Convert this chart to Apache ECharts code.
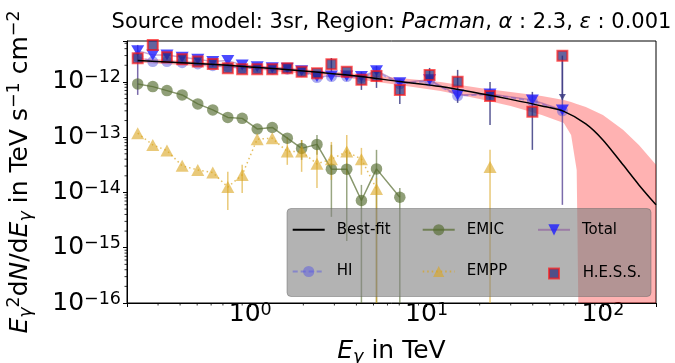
<!DOCTYPE html>
<html><head><meta charset="utf-8">
<script src="https://cdn.jsdelivr.net/npm/echarts@6/dist/echarts.min.js"></script>
<style>html,body{margin:0;padding:0;background:#fff}#c{width:675px;height:363px}</style>
</head><body><div id="c"></div>
<script>
// ---------- data ----------
const energies = [0.230,0.280,0.337,0.411,0.504,0.613,0.746,0.900,1.095,1.333,1.622,1.956,2.390,2.885,3.526,4.27,5.20,7.05,10.4,15.0,22.9,39.8,58.9];
const hessFlux = [2.68e-12,4.67e-12,2.80e-12,2.57e-12,2.33e-12,2.12e-12,1.77e-12,1.70e-12,1.70e-12,1.70e-12,1.77e-12,1.53e-12,1.44e-12,2.09e-12,1.53e-12,1.09e-12,1.28e-12,7.17e-13,1.34e-12,1.01e-12,5.58e-13,2.90e-13,2.99e-12];
const hessLo = [null,null,null,null,null,null,null,null,null,null,null,null,null,1.52e-12,null,7.17e-13,7.79e-13,4.0e-13,8.83e-13,4.17e-13,1.67e-13,5.9e-14,4.72e-13];
const hessHi = [null,null,null,null,null,null,null,null,null,null,null,null,null,2.71e-12,null,1.52e-12,1.95e-12,1.09e-12,1.79e-12,1.65e-12,1.0e-12,6.6e-13,2.99e-12];
const hessUpperLimit = [0,0,0,0,0,0,0,0,0,0,0,0,0,0,0,0,0,0,0,0,0,0,1];
const totalFlux = [3.68e-12,3.08e-12,3.08e-12,2.80e-12,2.57e-12,2.33e-12,2.43e-12,2.03e-12,1.89e-12,1.81e-12,1.77e-12,1.60e-12,1.25e-12,1.28e-12,1.28e-12,1.25e-12,1.60e-12,9.7e-13,1.09e-12,5.82e-13,6.07e-13,4.72e-13,3.12e-13];
const totalLo = [5.82e-13,null,null,null,null,null,null,null,null,null,null,null,null,null,null,null,null,null,null,null,null,null,5.97e-15];
const totalHi = [4.67e-12,null,null,null,null,null,null,null,null,null,null,null,null,null,null,null,null,null,null,null,null,null,2.5e-12];
const hiFlux = [2.87e-12,2.33e-12,2.33e-12,2.23e-12,2.12e-12,1.97e-12,1.89e-12,1.77e-12,1.77e-12,1.70e-12,1.70e-12,1.53e-12,1.20e-12,1.25e-12,1.25e-12,1.20e-12,1.52e-12,9.2e-13,1.04e-12,5.6e-13,5.9e-13,4.5e-13,3.0e-13];
const emicFlux = [9.2e-13,8.22e-13,6.96e-13,5.82e-13,4.0e-13,3.12e-13,2.28e-13,2.19e-13,1.41e-13,1.50e-13,9.6e-14,6.27e-14,7.41e-14,2.64e-14,2.64e-14,7.14e-15,2.67e-14,8.2e-15,null,null,null,null,null];
const emicLo = [null,null,null,null,null,null,null,null,null,null,null,3.89e-14,4.79e-14,3.62e-15,1.33e-15,1e-16,1e-16,1e-16,null,null,null,null,null];
const emicHi = [null,null,null,null,null,null,null,null,null,null,null,8.9e-14,1.10e-13,7.26e-14,5.9e-14,1.37e-14,5.9e-14,1.21e-14,null,null,null,null,null];
const emppFlux = [1.18e-13,7.26e-14,5.73e-14,3.03e-14,2.56e-14,2.29e-14,1.25e-14,2.08e-14,9.2e-14,9.6e-14,5.5e-14,5.5e-14,3.29e-14,4.0e-14,5.5e-14,4.0e-14,1.16e-14,null,null,null,2.9e-14,null,null];
const emppLo = [null,null,null,null,null,null,4.84e-15,9.8e-15,null,null,3.16e-14,2.36e-14,1.21e-14,1.69e-14,2.09e-14,2.09e-14,1e-16,null,null,null,1e-16,null,null];
const emppHi = [null,null,null,null,null,null,2.36e-14,3.16e-14,null,null,1.01e-13,8.9e-14,5.9e-14,8.2e-14,1.10e-13,6.4e-14,1.84e-14,null,null,null,5.9e-14,null,null];
const fitE = [0.23,0.5,1,2,4,7,12,20,30,45,60,80,100,130,160,200];
const fitFlux = [2.43e-12,2.16e-12,1.87e-12,1.58e-12,1.28e-12,1.02e-12,8.29e-13,6.19e-13,4.83e-13,3.68e-13,2.93e-13,1.74e-13,8.93e-14,3.16e-14,1.37e-14,5.97e-15];
const bandE = [0.23,1,3,7,12,20,30,45,60,66,71,72.5,80,100,130,160,200];
const bandHi = [2.72e-12,2.03e-12,1.52e-12,1.18e-12,1.0e-12,7.79e-13,6.6e-13,5.58e-13,4.72e-13,4.35e-13,4.0e-13,3.9e-13,3.53e-13,2.53e-13,1.36e-13,7.26e-14,3.16e-14];
const bandLo = [2.24e-12,1.72e-12,1.26e-12,8.83e-13,6.88e-13,4.93e-13,3.68e-13,2.53e-13,1.81e-13,1.10e-13,2.56e-14,1e-16,1e-16,1e-16,1e-16,1e-16,1e-16];
const xMinorTicks = [0.3,0.4,0.5,0.6,0.7,0.8,0.9,2,3,4,5,6,7,8,9,20,30,40,50,60,70,80,90];
const yMinorTicks = [2e-16,3e-16,4e-16,5e-16,6e-16,7e-16,8e-16,9e-16,2e-15,3e-15,4e-15,5e-15,6e-15,7e-15,8e-15,9e-15,2e-14,3e-14,4e-14,5e-14,6e-14,7e-14,8e-14,9e-14,2e-13,3e-13,4e-13,5e-13,6e-13,7e-13,8e-13,9e-13,2e-12,3e-12,4e-12,5e-12];
const xMin = 0.2, xMax = 200, yMin = 1e-16, yMax = 5.5e-12;
const legendNames = ['Best-fit','HI','EMIC','EMPP','Total','H.E.S.S.'];

// ---------- helpers ----------
const FF = 'DejaVu Sans';
const pairs = (xs, ys) => xs.map((x, i) => [x, ys[i]]);
const errData = (lo, hi) => energies.map((e, i) => lo[i] == null ? null : [e, lo[i], hi[i]]).filter(d => d);
function powLabel(v) {
  const l = Math.log10(v), r = Math.round(l);
  if (Math.abs(l - r) > 1e-6) return '';
  return '{b|10}{s|' + (r < 0 ? '\u2212' + (-r) : r) + '}';
}
const tickRich = {
  b: {fontSize: 25, fontFamily: FF, lineHeight: 26, color: '#000'},
  s: {fontSize: 17.5, fontFamily: FF, lineHeight: 14, verticalAlign: 'top', color: '#000'}
};
function errSeries(name, data, color, width) {
  return {
    type: 'custom', name: name, data: data, silent: true, z: 3,
    renderItem: function (params, api) {
      const x = api.value(0);
      const p1 = api.coord([x, api.value(1)]), p2 = api.coord([x, api.value(2)]);
      return {type: 'line', shape: {x1: p1[0], y1: p1[1], x2: p2[0], y2: p2[1]},
        style: {stroke: color, lineWidth: width}};
    }
  };
}

const chart = echarts.init(document.getElementById('c'), null, {renderer: 'canvas'});
const rowY = [229.3, 271];
const legendPos = {
  'Best-fit': {left: 291.7, row: 0, w: 32, h: 14, pad: 7},
  'HI': {left: 291.7, row: 1, w: 32, h: 14, pad: 7},
  'EMIC': {left: 421.7, row: 0, w: 32, h: 14, pad: 7},
  'EMPP': {left: 421.7, row: 1, w: 32, h: 14, pad: 7},
  'Total': {left: 537, row: 0, w: 32, h: 14, pad: 7},
  'H.E.S.S.': {left: 548, row: 1, w: 10, h: 10, pad: 18.7}
};

chart.setOption({
  animation: false,
  backgroundColor: '#fff',
  title: {
    text: '{n|Source model: 3sr, Region: }{i|Pacman}{n|, }{i|\u03b1}{n| : 2.3, }{i|\u03b5}{n| : 0.001}',
    left: 391.5, top: 12, textAlign: 'center', padding: 0,
    textStyle: {fontWeight: 'normal', rich: {
      n: {fontSize: 21, fontFamily: FF, fontWeight: 'normal', color: '#000'},
      i: {fontSize: 21, fontFamily: FF, fontWeight: 'normal', fontStyle: 'italic', color: '#000'}
    }}
  },
  grid: {left: 127, right: 19, top: 41, bottom: 60, show: true, borderColor: '#000', borderWidth: 1,
    backgroundColor: 'transparent', containLabel: false, outerBoundsMode: 'none'},
  xAxis: {
    type: 'log', logBase: 10, min: xMin, max: xMax,
    name: '{i|E}{sb|\u03b3}{n| in TeV}', nameLocation: 'middle', nameGap: 33,
    nameTextStyle: {rich: {
      n: {fontSize: 25, fontFamily: FF, lineHeight: 30, color: '#000'},
      i: {fontSize: 25, fontFamily: FF, fontStyle: 'italic', lineHeight: 30, color: '#000'},
      sb: {fontSize: 17.5, fontFamily: FF, fontStyle: 'italic', lineHeight: 14, verticalAlign: 'bottom', color: '#000'}
    }},
    axisLine: {show: true, lineStyle: {color: '#000', width: 1}},
    axisTick: {show: true, length: 4, lineStyle: {color: '#000'}},
    minorTick: {show: false},
    splitLine: {show: false},
    axisLabel: {formatter: powLabel, margin: -2, rich: tickRich}
  },
  yAxis: {
    type: 'log', logBase: 10, min: yMin, max: yMax,
    name: '{i|E}{sb|\u03b3}{sp|2}{n|d}{i|N}{n|/d}{i|E}{sb|\u03b3}{n| in TeV s}{sp|\u22121}{n| cm}{sp|\u22122}',
    nameLocation: 'middle', nameRotate: 90, nameGap: 92,
    nameTextStyle: {rich: {
      n: {fontSize: 25, fontFamily: FF, lineHeight: 30, color: '#000'},
      i: {fontSize: 25, fontFamily: FF, fontStyle: 'italic', lineHeight: 30, color: '#000'},
      sb: {fontSize: 17.5, fontFamily: FF, fontStyle: 'italic', lineHeight: 14, verticalAlign: 'bottom', color: '#000'},
      sp: {fontSize: 17.5, fontFamily: FF, lineHeight: 14, verticalAlign: 'top', color: '#000'}
    }},
    axisLine: {show: true, lineStyle: {color: '#000', width: 1}},
    axisTick: {show: true, length: 4, lineStyle: {color: '#000'}},
    splitLine: {show: false},
    axisLabel: {formatter: powLabel, margin: 6, rich: tickRich}
  },
  legend: legendNames.map(n => {
    const p = legendPos[n];
    return {
      orient: 'vertical', padding: 0, z: 20,
      data: n === 'Best-fit' ? [{name: n, itemStyle: {opacity: 0}}] : [n],
      left: p.left, top: rowY[p.row] - p.h / 2, itemWidth: p.w, itemHeight: p.h,
      textStyle: {fontSize: 15, fontFamily: FF, color: '#000', padding: [0, 0, 0, p.pad]}
    };
  }),
  graphic: [{
    type: 'rect', z: 10, silent: true,
    shape: {x: 287, y: 208.5, width: 364, height: 88, r: 4},
    style: {fill: 'rgba(128,128,128,0.6)', stroke: 'rgba(100,100,100,0.45)', lineWidth: 1}
  }],
  series: [
    {
      type: 'custom', name: 'band', silent: true, z: 1, clip: true,
      data: bandE.map((e, i) => [e, bandLo[i], bandHi[i]]),
      renderItem: function (params, api) {
        if (params.dataIndex !== 0) return null;
        const pts = [];
        for (let i = 0; i < bandE.length; i++) pts.push(api.coord([bandE[i], bandHi[i]]));
        for (let i = bandE.length - 1; i >= 0; i--) pts.push(api.coord([bandE[i], bandLo[i]]));
        return {type: 'polygon', shape: {points: pts}, style: {fill: 'rgba(255,0,0,0.3)'}};
      }
    },
    {
      type: 'line', name: 'HI', data: pairs(energies, hiFlux), z: 2,
      symbol: 'circle', symbolSize: 11,
      itemStyle: {color: 'rgba(90,90,225,0.5)'},
      lineStyle: {color: 'rgba(90,90,225,0.5)', width: 1.5, type: [5, 3]}
    },
    errSeries('emicErr', errData(emicLo, emicHi), 'rgba(85,107,47,0.6)', 1.5),
    {
      type: 'line', name: 'EMIC', data: pairs(energies, emicFlux), z: 3,
      symbol: 'circle', symbolSize: 11.5, connectNulls: false,
      itemStyle: {color: 'rgba(85,107,47,0.65)'},
      lineStyle: {color: 'rgba(85,107,47,0.7)', width: 1.5}
    },
    errSeries('emppErr', errData(emppLo, emppHi), 'rgba(218,165,32,0.6)', 1.5),
    {
      type: 'line', name: 'EMPP', data: pairs(energies, emppFlux), z: 3,
      symbol: 'triangle', symbolSize: [13, 12], connectNulls: false,
      itemStyle: {color: 'rgba(218,165,32,0.6)'},
      lineStyle: {color: 'rgba(218,165,32,0.7)', width: 1.5, type: [1.5, 3]}
    },
    errSeries('totalErr', errData(totalLo, totalHi), 'rgba(90,70,150,0.8)', 1.5),
    {
      type: 'line', name: 'Total', data: pairs(energies, totalFlux), z: 4,
      symbol: 'triangle', symbolRotate: 180, symbolSize: [13, 11],
      itemStyle: {color: 'rgba(30,30,255,0.8)'},
      lineStyle: {color: 'rgba(128,60,150,0.45)', width: 1.5}
    },
    {
      type: 'custom', name: 'hessErr', silent: true, z: 4,
      data: energies.map((e, i) => hessLo[i] == null ? null : [e, hessLo[i], hessHi[i], hessUpperLimit[i]]).filter(d => d),
      renderItem: function (params, api) {
        const x = api.value(0);
        const p1 = api.coord([x, api.value(1)]), p2 = api.coord([x, api.value(2)]);
        const children = [{type: 'line', shape: {x1: p1[0], y1: p1[1], x2: p2[0], y2: p2[1]},
          style: {stroke: 'rgba(60,60,130,0.85)', lineWidth: 1.5}}];
        if (api.value(3) === 1) {
          children.push({type: 'polygon', shape: {points: [[p1[0] - 3.5, p1[1] - 6], [p1[0] + 3.5, p1[1] - 6], [p1[0], p1[1]]]},
            style: {fill: 'rgba(60,60,130,0.85)'}});
        }
        return {type: 'group', children: children};
      }
    },
    {
      type: 'scatter', name: 'H.E.S.S.', data: pairs(energies, hessFlux), z: 5,
      symbol: 'rect', symbolSize: 10,
      itemStyle: {color: 'rgba(40,40,120,0.9)', borderColor: 'rgba(255,20,20,0.85)', borderWidth: 2}
    },
    {
      type: 'line', name: 'Best-fit', data: pairs(fitE, fitFlux), z: 6,
      symbol: 'none', smooth: 0.3, clip: true,
      itemStyle: {color: '#000'},
      lineStyle: {color: '#000', width: 1.5}
    },
    {
      type: 'custom', name: 'xMinor', silent: true, z: 6,
      data: xMinorTicks.map(v => [v, yMin]),
      renderItem: function (params, api) {
        const p = api.coord([api.value(0), api.value(1)]);
        return {type: 'line', shape: {x1: p[0], y1: p[1], x2: p[0], y2: p[1] + 2.5}, style: {stroke: '#000', lineWidth: 0.8}};
      }
    },
    {
      type: 'custom', name: 'yMinor', silent: true, z: 6,
      data: yMinorTicks.map(v => [xMin, v]),
      renderItem: function (params, api) {
        const p = api.coord([api.value(0), api.value(1)]);
        return {type: 'line', shape: {x1: p[0], y1: p[1], x2: p[0] - 2.5, y2: p[1]}, style: {stroke: '#000', lineWidth: 0.8}};
      }
    }
  ]
});
</script></body></html>
